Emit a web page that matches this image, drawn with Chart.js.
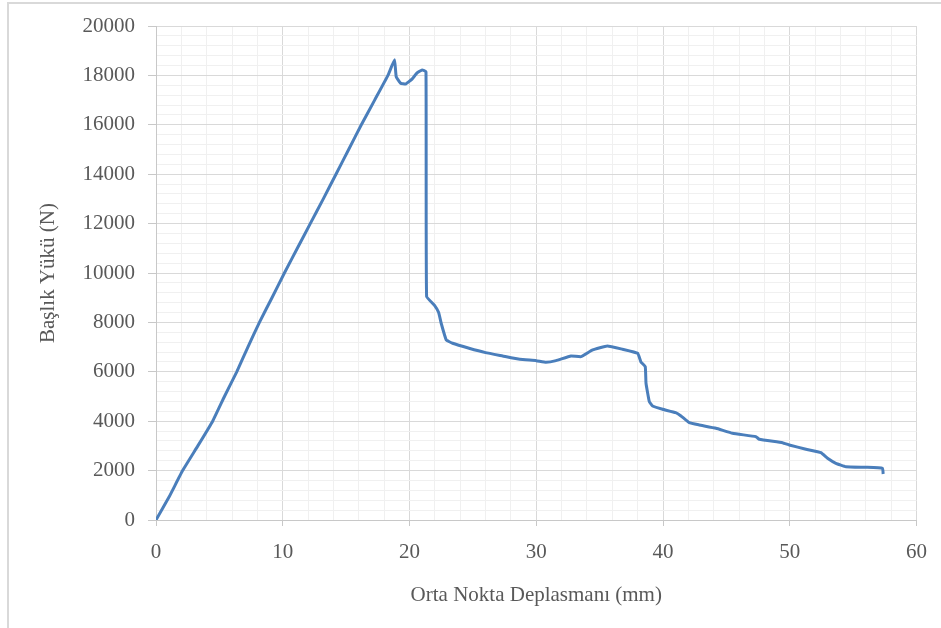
<!DOCTYPE html>
<html>
<head>
<meta charset="utf-8">
<script src="https://cdn.jsdelivr.net/npm/chart.js@4"></script>
<style>
    html, body { margin: 0; padding: 0; background: #fff; }
    #wrap { position: relative; width: 941px; height: 628px; }
</style>
</head>
<body>
<div id="wrap"><canvas id="load-chart"></canvas></div>
<script>
// Orta nokta deplasmanı (mm)
var dispMm = [
    0, 1.05, 2.1, 3.3, 4.47, 5.4, 6.37, 7.25, 8.16, 9.15, 10.13, 11.15, 12.17, 13.2, 14.2, 15.2, 16.2, 17.25, 18.3, 18.82,
    18.95, 19.3, 19.7, 20.2, 20.6, 21.0, 21.3, 21.35, 21.96, 22.3, 22.5, 22.9, 23.4,
    24.7, 26.0, 27.35, 28.7, 30.0, 30.77, 31.56, 32.74, 33.53, 34.45, 35.6, 36.8,
    38.0, 38.26, 38.6, 38.66, 38.92, 39.18, 39.97, 41.0, 41.42, 42.07, 42.86, 44.18,
    45.49, 47.33, 47.6, 49.43, 49.96, 51.28, 52.46, 52.98, 53.64, 54.43, 56.0, 57.32, 57.37
];
// Başlık yükü (N)
var loadN = [
    0, 950, 2000, 3000, 4000, 5000, 6000, 7000, 8000, 9000, 10000, 11000, 12000, 13000, 14000, 15000, 16000, 17000, 18000, 18630,
    17950, 17680, 17650, 17850, 18100, 18220, 18150, 9050, 8700, 8400, 7965, 7290, 7155,
    6953, 6777, 6642, 6507, 6452, 6387, 6452, 6642, 6614, 6885, 7047, 6913,
    6750, 6400, 6210, 5535, 4790, 4617, 4482, 4346, 4212, 3941, 3848, 3713,
    3511, 3374, 3267, 3131, 3038, 2863, 2726, 2499, 2296, 2160, 2133, 2093, 1863
];

var textColor = '#595959';
var serif = "'Liberation Serif', 'Times New Roman', serif";

// light frame around the picture (top and left edges)
var framePlugin = {
    id: 'frame',
    beforeDraw: function(chart) {
        var c = chart.ctx;
        c.save();
        c.strokeStyle = '#d9d9d9';
        c.lineWidth = 2;
        c.beginPath();
        c.moveTo(8, 628);
        c.lineTo(8, 3);
        c.lineTo(941, 3);
        c.stroke();
        c.restore();
    }
};

document.addEventListener('DOMContentLoaded', function() {
    var ctx = document.getElementById('load-chart').getContext('2d');
    var points = dispMm.map(function(x, i) { return { x: x, y: loadN[i] }; });

    new Chart(ctx, {
        type: 'line',
        data: {
            datasets: [{
                data: points,
                borderColor: '#4a7ebb',
                borderWidth: 3,
                pointRadius: 0,
                tension: 0.1,
                fill: false
            }]
        },
        plugins: [framePlugin],
        options: {
            responsive: true,
            maintainAspectRatio: false,
            animation: false,
            layout: { padding: { top: 26, right: 24, bottom: 0, left: 0 } },
            plugins: {
                legend: { display: false },
                tooltip: { enabled: false }
            },
            scales: {
                x: {
                    type: 'linear',
                    min: 0,
                    max: 60,
                    afterFit: function(scale) { scale.height = 108; },
                    afterBuildTicks: function(scale) {
                        var t = [];
                        for (var v = 0; v <= 60; v += 2) t.push({ value: v });
                        scale.ticks = t;
                    },
                    ticks: {
                        autoSkip: false,
                        maxRotation: 0,
                        padding: 14,
                        color: textColor,
                        font: { family: serif, size: 21 },
                        callback: function(v) { return v % 10 === 0 ? v : ''; }
                    },
                    grid: {
                        tickLength: 6,
                        color: function(c) { return c.tick && c.tick.value % 10 === 0 ? '#d9d9d9' : '#f0f0f0'; },
                        tickColor: function(c) { return c.tick && c.tick.value % 10 === 0 ? '#c8c8c8' : 'rgba(0,0,0,0)'; }
                    },
                    border: { color: '#c8c8c8' },
                    title: {
                        display: true,
                        text: 'Orta Nokta Deplasmanı (mm)',
                        color: textColor,
                        font: { family: serif, size: 21 },
                        padding: { top: 0, bottom: 20 }
                    }
                },
                y: {
                    min: 0,
                    max: 20000,
                    afterFit: function(scale) { scale.width = 156; },
                    afterBuildTicks: function(scale) {
                        var t = [];
                        for (var v = 0; v <= 20000; v += 400) t.push({ value: v });
                        scale.ticks = t;
                    },
                    ticks: {
                        autoSkip: false,
                        padding: 13,
                        color: textColor,
                        font: { family: serif, size: 21 },
                        callback: function(v) { return v % 2000 === 0 ? v : ''; }
                    },
                    grid: {
                        tickLength: 8,
                        color: function(c) { return c.tick && c.tick.value % 2000 === 0 ? '#d9d9d9' : '#f0f0f0'; },
                        tickColor: function(c) { return c.tick && c.tick.value % 2000 === 0 ? '#c8c8c8' : 'rgba(0,0,0,0)'; }
                    },
                    border: { color: '#c8c8c8' },
                    title: {
                        display: true,
                        text: 'Başlık Yükü (N)',
                        color: textColor,
                        font: { family: serif, size: 21 },
                        padding: { top: 36, bottom: 0 }
                    }
                }
            }
        }
    });
});
</script>
</body>
</html>
